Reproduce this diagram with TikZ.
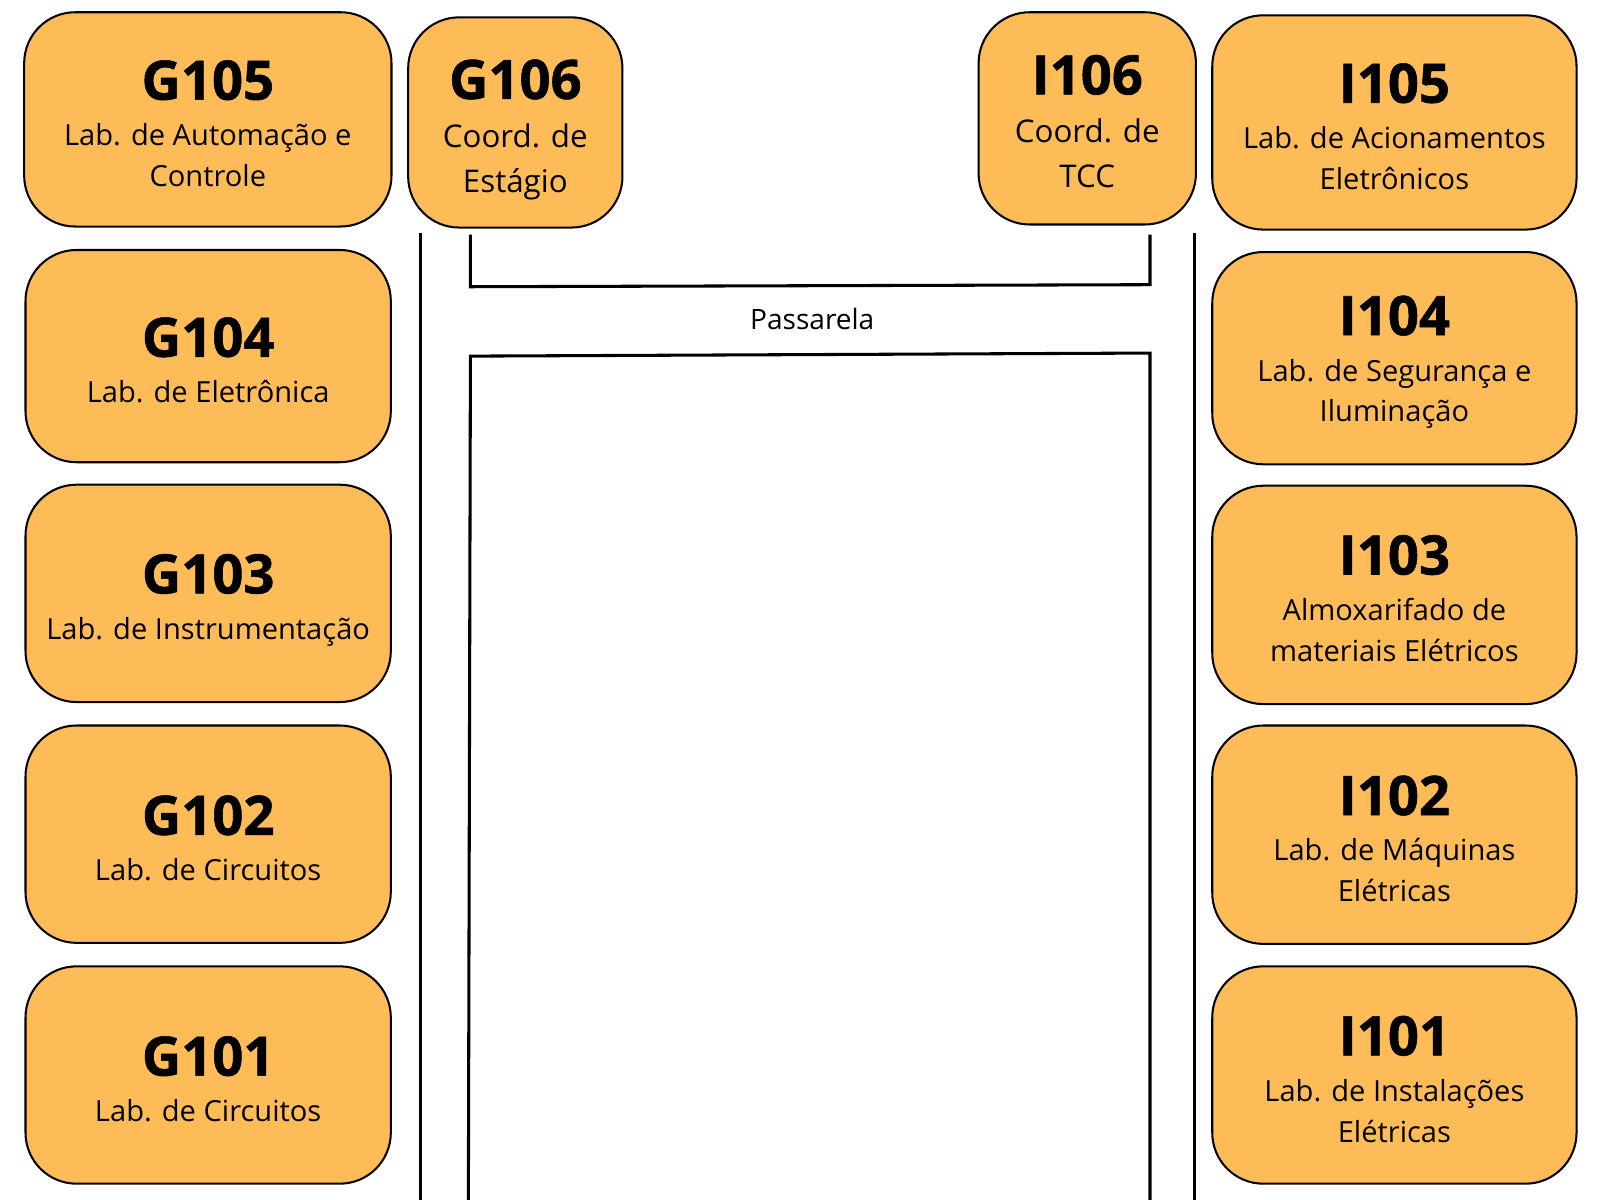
\documentclass[tikz,border=0pt]{standalone}
\usepackage{fontspec}
\setmainfont{Open Sans}
\newfontfamily\siglafont{Open Sans}[BoldFeatures={FakeBold=1}]
\usetikzlibrary{positioning}

\definecolor{laranja}{RGB}{254,188,89}
% sigla da sala; o argumento opcional acerta a altura do texto na caixa
\newcommand{\sigla}[2][14pt]{{\rule{0pt}{#1}\siglafont\fontsize{16}{16}\selectfont\bfseries #2}}

\begin{document}
\begin{tikzpicture}[x=1pt, y=-1pt,
    sala/.style={draw=black, line width=0.6pt, fill=laranja, rounded corners=15pt,
                 align=center, inner sep=0pt, font=\fontsize{8.55}{12}\selectfont},
    coord/.style={sala, font=\fontsize{9.2}{13.2}\selectfont},
    parede/.style={line width=0.9pt}]

    % Margens da folha
    \useasboundingbox (0,0) rectangle (470.4,352.8);

    % Bloco G (coluna esquerda)
    \node[sala, minimum width=108pt, minimum height=63pt] (g105) at (61.1,35.1)
        {\sigla{G105}\\[1.5pt] Lab. de Automação e\\ Controle};
    \node[sala, minimum width=107.4pt, minimum height=62.4pt] (g104) at (61.2,104.7)
        {\sigla{G104}\\[1.5pt] Lab. de Eletrônica};
    \node[sala, minimum width=107.4pt, minimum height=63.9pt] (g103) at (61.2,174.45)
        {\sigla[15.6pt]{G103}\\[1.5pt] Lab. de Instrumentação};
    \node[sala, minimum width=107.4pt, minimum height=63.9pt] (g102) at (61.2,245.25)
        {\sigla{G102}\\[1.5pt] Lab. de Circuitos};
    \node[sala, minimum width=107.4pt, minimum height=63.9pt] (g101) at (61.2,316.05)
        {\sigla{G101}\\[1.5pt] Lab. de Circuitos};

    % Coordenações
    \node[coord, minimum width=63pt, minimum height=61.8pt] (g106) at (151.5,36)
        {\sigla[15.8pt]{G106}\\[1pt] Coord. de\\ Estágio};
    \node[coord, minimum width=63.9pt, minimum height=62.4pt] (i106) at (319.65,34.8)
        {\sigla[13.4pt]{I106}\\[1pt] Coord. de\\ TCC};

    % Bloco I (coluna direita)
    \node[sala, minimum width=107.1pt, minimum height=63pt] (i105) at (409.95,36)
        {\sigla{I105}\\[1.5pt] Lab. de Acionamentos\\ Eletrônicos};
    \node[sala, minimum width=107.1pt, minimum height=62.4pt] (i104) at (409.95,105.3)
        {\sigla{I104}\\[1.5pt] Lab. de Segurança e\\ Iluminação};
    \node[sala, minimum width=107.1pt, minimum height=64.2pt] (i103) at (409.95,174.9)
        {\sigla[13.6pt]{I103}\\[1.5pt] Almoxarifado de\\ materiais Elétricos};
    \node[sala, minimum width=107.1pt, minimum height=64.2pt] (i102) at (409.95,245.4)
        {\sigla{I102}\\[1.5pt] Lab. de Máquinas\\ Elétricas};
    \node[sala, minimum width=107.1pt, minimum height=63.9pt] (i101) at (409.95,316.05)
        {\sigla{I101}\\[1.5pt] Lab. de Instalações\\ Elétricas};

    % Corredores
    \draw[parede] (123.6,68.4) -- (123.6,352.8);
    \draw[parede] (351.3,68.4) -- (351.3,352.8);

    % Passarela
    \draw[parede] (138.3,69) -- (138.3,84.3) -- (338.1,83.7) -- (338.1,69);
    \draw[parede] (137.7,352.8) -- (138.3,104.7) -- (338.1,103.8) -- (338.1,352.8);
    \node[font=\fontsize{8.25}{10}\selectfont] (passarela) at (238.8,93.9) {Passarela};

\end{tikzpicture}
\end{document}
